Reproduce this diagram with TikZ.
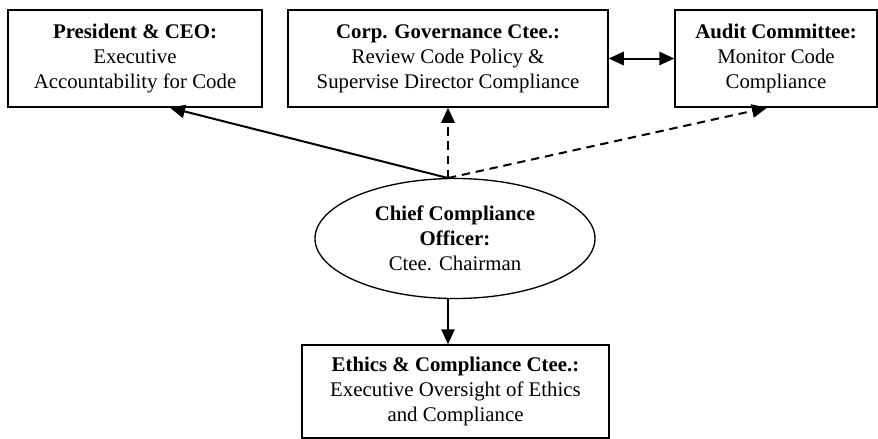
\documentclass[tikz,border=0pt]{standalone}
\usepackage{fontspec}
\setmainfont{Liberation Serif}
\usepackage{tikz}
\usetikzlibrary{arrows.meta,shapes.geometric}

\tikzset{
  role/.style={draw, line width=0.9pt, rectangle, align=center, font=\fontsize{12.5}{15}\selectfont, inner sep=0pt},
  chair/.style={draw, line width=0.8pt, ellipse, align=center, font=\fontsize{12.5}{15}\selectfont, inner sep=0pt, minimum width=168pt, minimum height=72pt},
  link/.style={line width=1.2pt, -{Triangle[length=9pt,width=8pt]}},
  dlink/.style={link, dash pattern=on 5pt off 3.5pt}
}

\begin{document}
\begin{tikzpicture}[x=0.6pt,y=-0.6pt]

\useasboundingbox (0,0) rectangle (878,439);

\node[role, minimum width=152.4pt, minimum height=58.2pt] (ceo) at (135,58.5) {\textbf{President \& CEO:}\\Executive\\Accountability for Code};
\node[role, minimum width=192pt, minimum height=58.2pt] (gov) at (448,58.5) {\textbf{Corp. Governance Ctee.:}\\Review Code Policy \&\\Supervise Director Compliance};
\node[role, minimum width=121.2pt, minimum height=58.2pt] (audit) at (776,58.5) {\textbf{Audit Committee:}\\Monitor Code\\Compliance};
\node[chair] (cco) at (455,238.5) {\textbf{Chief Compliance}\\\textbf{Officer:}\\Ctee. Chairman};
\node[role, minimum width=184.2pt, minimum height=55.8pt] (ethics) at (455.5,391.5) {\textbf{Ethics \& Compliance Ctee.:}\\Executive Oversight of Ethics\\and Compliance};

\coordinate (ccotop) at (448,178);
\coordinate (ccobot) at (448,299);

\draw[link] (ccotop) -- ([xshift=21pt]ceo.south);
\draw[dlink] (ccotop) -- (gov.south);
\draw[dlink] (ccotop) -- ([xshift=-5.4pt]audit.south);
\draw[link] (ccobot) -- (ccobot |- ethics.north);
\draw[link, {Triangle[length=9pt,width=8pt]}-{Triangle[length=9pt,width=8pt]}] (gov.east) -- (audit.west);

\end{tikzpicture}
\end{document}
